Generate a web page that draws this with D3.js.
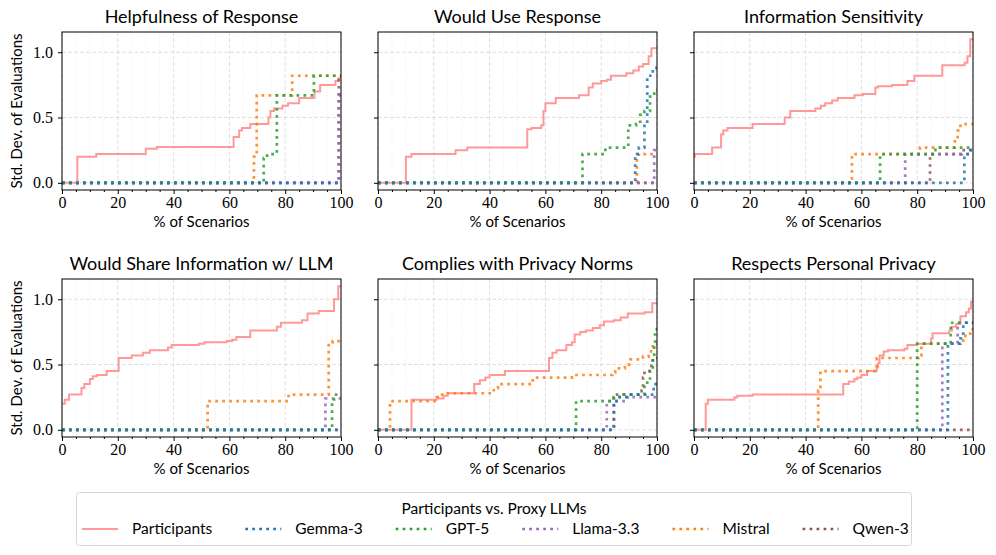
<!DOCTYPE html>
<html>
<head>
<meta charset="utf-8">
<script src="https://cdn.jsdelivr.net/npm/d3@7"></script>
<style>
  body { margin: 0; background: #fff; }
  svg { display: block; }
  .title { font-family: "Lato", "Noto Sans", sans-serif; font-size: 18px; }
  .label { font-family: "Lato", "Noto Sans", sans-serif; font-size: 15px; }
  .legend text { font-family: "Lato", "Noto Sans", sans-serif; font-size: 15.5px; }
</style>
</head>
<body>
<div id="chart"></div>
<script>
// panel titles, in reading order
var titles = [
  'Helpfulness of Response', 'Would Use Response', 'Information Sensitivity',
  'Would Share Information w/ LLM', 'Complies with Privacy Norms', 'Respects Personal Privacy'
];
var seriesNames = ['Participants', 'Gemma-3', 'GPT-5', 'Llama-3.3', 'Mistral', 'Qwen-3'];
var seriesColors = ['#ff9999', '#1f77b4', '#2ca02c', '#9467bd', '#ff7f0e', '#8c564b'];
var xTicks = [0, 20, 40, 60, 80, 100];
var xMinor = [5, 10, 15, 25, 30, 35, 45, 50, 55, 65, 70, 75, 85, 90, 95];
var yTicks = [0, 0.5, 1.0];

// each series: [x %, value] points where the sorted std dev steps up
// order: Participants, Gemma-3, GPT-5, Llama-3.3, Mistral, Qwen-3
var helpfulness = [
  [[0, 0], [5.5, 0.2], [12.3, 0.22], [30, 0.26], [34, 0.275], [61.5, 0.35], [63.5, 0.4], [64.5, 0.42],
   [67.5, 0.45], [74, 0.5], [74.7, 0.55], [76, 0.57], [79, 0.59], [81, 0.61], [85, 0.65],
   [90.5, 0.7], [92.5, 0.75], [98, 0.78], [99, 0.8]],
  [[0, 0]],
  [[0, 0], [72.3, 0.19], [73.5, 0.22], [77, 0.67], [90.3, 0.82]],
  [[0, 0], [99.2, 0.67]],
  [[0, 0], [68.8, 0.2], [69.8, 0.67], [82.5, 0.82]],
  [[0, 0], [99.2, 0.82]]
];
var wouldUse = [
  [[0, 0], [10, 0.2], [12, 0.22], [27.8, 0.25], [32, 0.27], [53.5, 0.41], [55, 0.42], [58.5, 0.44],
   [59.3, 0.55], [60, 0.61], [63.7, 0.65], [72, 0.67], [75.5, 0.73], [77, 0.76], [80, 0.78],
   [82, 0.79], [83.5, 0.82], [89, 0.84], [91.5, 0.86], [93.5, 0.89], [95, 0.91], [97, 0.97], [98, 1.03]],
  [[0, 0], [92.2, 0.22], [93.5, 0.27], [95.5, 0.45], [96.5, 0.82], [98.5, 0.88]],
  [[0, 0], [73.3, 0.22], [81.5, 0.27], [89.7, 0.44], [92.5, 0.45], [94, 0.52], [95.5, 0.55],
   [97.5, 0.66], [99, 0.71]],
  [[0, 0], [99, 0.25]],
  [[0, 0], [92.8, 0.22]],
  [[0, 0]]
];
var sensitivity = [
  [[0, 0.2], [0.3, 0.22], [6.5, 0.27], [9.7, 0.37], [10.5, 0.4], [12, 0.42], [21, 0.45], [32.5, 0.5],
   [34.5, 0.55], [43.5, 0.57], [45.5, 0.59], [47, 0.61], [49.5, 0.63], [51.5, 0.65], [57.5, 0.67],
   [60.5, 0.68], [65, 0.73], [66, 0.74], [71, 0.75], [76.5, 0.78], [79, 0.82], [89, 0.9],
   [97, 0.92], [98, 0.97], [99, 1.1]],
  [[0, 0], [96.9, 0.22], [99, 0.25]],
  [[0, 0], [66.7, 0.22], [85.6, 0.25], [86.5, 0.27]],
  [[0, 0], [75.7, 0.22]],
  [[0, 0], [56.6, 0.22], [81, 0.27], [93.5, 0.33], [94.5, 0.4], [95.5, 0.45]],
  [[0, 0], [84.6, 0.22], [96, 0.25]]
];
var wouldShare = [
  [[0, 0.2], [1, 0.23], [2.5, 0.27], [7, 0.32], [8, 0.35], [10, 0.39], [11, 0.41], [12.5, 0.42],
   [16, 0.45], [20.3, 0.55], [25, 0.57], [29, 0.59], [31.5, 0.61], [38, 0.63], [39.3, 0.65],
   [49, 0.66], [51, 0.67], [59, 0.68], [61, 0.69], [62.5, 0.71], [67.5, 0.76], [77, 0.79],
   [78.5, 0.82], [86, 0.84], [88, 0.89], [92, 0.91], [97.5, 1.0], [99, 1.1]],
  [[0, 0]],
  [[0, 0], [96.8, 0.22], [97.5, 0.27]],
  [[0, 0], [94.4, 0.24]],
  [[0, 0], [52.2, 0.22], [81.2, 0.27], [95.6, 0.66], [97, 0.68]],
  [[0, 0]]
];
var privacyNorms = [
  [[0, 0], [12, 0.23], [21, 0.24], [23.5, 0.26], [25, 0.28], [34.5, 0.35], [36.5, 0.38], [38.5, 0.4],
   [40, 0.42], [45.5, 0.45], [61.3, 0.55], [62.5, 0.59], [64, 0.61], [67.5, 0.65], [69.5, 0.67],
   [70.5, 0.73], [72.5, 0.75], [74.5, 0.76], [77, 0.78], [79.5, 0.8], [81, 0.83], [84.5, 0.84],
   [87, 0.86], [89.5, 0.89], [95.5, 0.9], [98.3, 0.97]],
  [[0, 0], [84.6, 0.22], [85.5, 0.25], [89.5, 0.27], [98.8, 0.35]],
  [[0, 0], [71, 0.22], [84.5, 0.25], [88, 0.27], [95.5, 0.33], [96.5, 0.38], [97.5, 0.45],
   [98.5, 0.55], [99, 0.66], [99.3, 0.77]],
  [[0, 0], [82, 0.22], [89, 0.25]],
  [[0, 0], [4.3, 0.22], [21, 0.25], [23, 0.28], [41.5, 0.32], [43, 0.35], [55.5, 0.4], [69.5, 0.42],
   [84, 0.44], [85, 0.47], [88.5, 0.5], [90.5, 0.54], [95, 0.56], [97, 0.6], [98.5, 0.66]],
  [[0, 0], [84.5, 0.27], [94.5, 0.3], [95, 0.4], [95.5, 0.45], [98, 0.5], [98.5, 0.55]]
];
var personalPrivacy = [
  [[0, 0], [4.2, 0.2], [5, 0.23], [14.5, 0.25], [15.5, 0.26], [21, 0.27], [53.5, 0.35], [55.5, 0.37],
   [57.5, 0.39], [58.5, 0.4], [60, 0.42], [62, 0.45], [65.5, 0.48], [66, 0.51], [66.5, 0.57],
   [68, 0.6], [69.5, 0.61], [75.5, 0.62], [76.5, 0.65], [80, 0.66], [85, 0.7], [85.5, 0.74],
   [91.5, 0.76], [92.5, 0.79], [94, 0.81], [95.5, 0.87], [97.5, 0.9], [98.5, 0.93], [99.3, 0.98]],
  [[0, 0], [91, 0.66], [95.5, 0.7], [96.5, 0.82]],
  [[0, 0], [80, 0.66], [92, 0.82]],
  [[0, 0], [89, 0.66], [94.5, 0.82]],
  [[0, 0], [44.5, 0.3], [45.3, 0.45], [65.5, 0.55], [80.5, 0.57], [81.5, 0.66], [96.5, 0.72], [99, 0.77]],
  [[0, 0]]
];
var panelData = [helpfulness, wouldUse, sensitivity, wouldShare, privacyNorms, personalPrivacy];

var width = 996, height = 555;
var colLeft = [62, 378, 694];
var rowTop = [32, 279];
var pw = 279, ph = 158;
var serif = '"Liberation Serif", "DejaVu Serif", "Times New Roman", serif';

var svg = d3.select('#chart').append('svg')
  .attr('width', width)
  .attr('height', height);

var x = d3.scaleLinear().domain([0, 100]).range([0, pw]);
var y = d3.scaleLinear().domain([-0.055, 1.155]).range([ph, 0]);

var line = d3.line()
  .x(function(d) { return x(d[0]); })
  .y(function(d) { return y(d[1]); })
  .curve(d3.curveStepAfter);

function withEnd(pts) {
  // carry the last value out to 100%
  return pts.concat([[100, pts[pts.length - 1][1]]]);
}

titles.forEach(function(title, i) {
  var col = i % 3, row = Math.floor(i / 3);
  var g = svg.append('g')
    .attr('transform', 'translate(' + colLeft[col] + ',' + rowTop[row] + ')');

  // grid
  g.selectAll('line.minor').data(xMinor).enter().append('line')
    .attr('x1', function(d) { return x(d); }).attr('x2', function(d) { return x(d); })
    .attr('y1', 0).attr('y2', ph)
    .attr('stroke', '#e4e4e4').attr('stroke-width', 0.8).attr('stroke-dasharray', '1,2');
  g.selectAll('line.gx').data(xTicks).enter().append('line')
    .attr('x1', function(d) { return x(d); }).attr('x2', function(d) { return x(d); })
    .attr('y1', 0).attr('y2', ph)
    .attr('stroke', '#d8d8d8').attr('stroke-width', 0.8).attr('stroke-dasharray', '4,2');
  g.selectAll('line.gy').data(yTicks).enter().append('line')
    .attr('x1', 0).attr('x2', pw)
    .attr('y1', function(d) { return y(d); }).attr('y2', function(d) { return y(d); })
    .attr('stroke', '#d8d8d8').attr('stroke-width', 0.8).attr('stroke-dasharray', '4,2');

  var clip = 'clip' + i;
  g.append('clipPath').attr('id', clip).append('rect')
    .attr('width', pw).attr('height', ph);
  var plot = g.append('g').attr('clip-path', 'url(#' + clip + ')');

  var series = panelData[i];
  // participants first, then the proxies from last to first
  plot.append('path')
    .attr('d', line(withEnd(series[0])))
    .attr('fill', 'none')
    .attr('stroke', seriesColors[0])
    .attr('stroke-width', 2);
  for (var k = series.length - 1; k >= 1; k--) {
    plot.append('path')
      .attr('d', line(withEnd(series[k])))
      .attr('fill', 'none')
      .attr('stroke', seriesColors[k])
      .attr('stroke-opacity', 0.85)
      .attr('stroke-width', 2.7)
      .attr('stroke-dasharray', '2.7,4.3');
  }

  // axes
  var xAxis = g.append('g').attr('transform', 'translate(0,' + ph + ')')
    .call(d3.axisBottom(x).tickValues(xTicks).tickSize(4).tickPadding(3).tickFormat(d3.format('d')));
  g.append('g').attr('transform', 'translate(0,' + ph + ')')
    .call(d3.axisBottom(x).tickValues(xMinor).tickSize(2).tickFormat(''))
    .call(function(a) { a.select('.domain').remove(); });
  var yAxis = g.append('g')
    .call(d3.axisLeft(y).tickValues(yTicks).tickSize(4).tickPadding(5)
      .tickFormat(col === 0 ? d3.format('.1f') : ''));
  [xAxis, yAxis].forEach(function(a) {
    a.select('.domain').remove();
    a.attr('font-family', serif).attr('font-size', 16);
    a.selectAll('text').style('font-family', serif).style('font-size', '16px').attr('fill', '#000');
  });
  g.selectAll('.tick line').attr('stroke', '#000');

  g.append('rect')
    .attr('width', pw).attr('height', ph)
    .attr('fill', 'none').attr('stroke', '#000').attr('stroke-width', 1);

  g.append('text').attr('class', 'title')
    .attr('x', pw / 2).attr('y', -9)
    .attr('text-anchor', 'middle')
    .text(title);
  g.append('text').attr('class', 'label')
    .attr('x', pw / 2).attr('y', ph + 37)
    .attr('text-anchor', 'middle')
    .text('% of Scenarios');
  if (col === 0) {
    g.append('text').attr('class', 'label')
      .attr('transform', 'translate(-40,' + (ph / 2) + ') rotate(-90)')
      .attr('text-anchor', 'middle')
      .text('Std. Dev. of Evaluations');
  }
});

// legend
var legend = svg.append('g').attr('class', 'legend');
legend.append('rect')
  .attr('x', 76.5).attr('y', 492.5).attr('width', 835).attr('height', 53)
  .attr('rx', 3)
  .attr('fill', '#fff').attr('stroke', '#d6d6d6').attr('stroke-width', 1);
legend.append('text')
  .attr('x', 494).attr('y', 514)
  .attr('text-anchor', 'middle')
  .text('Participants vs. Proxy LLMs');

var lx = 82;
seriesNames.forEach(function(name, k) {
  var item = legend.append('g');
  item.append('line')
    .attr('x1', lx).attr('x2', lx + 36)
    .attr('y1', 529).attr('y2', 529)
    .attr('stroke', seriesColors[k])
    .attr('stroke-width', k === 0 ? 2 : 2.7)
    .attr('stroke-dasharray', k === 0 ? null : '2.7,4.3');
  var t = item.append('text')
    .attr('x', lx + 50).attr('y', 534)
    .text(name);
  lx += 50 + t.node().getComputedTextLength() + 33;
});
</script>
</body>
</html>
